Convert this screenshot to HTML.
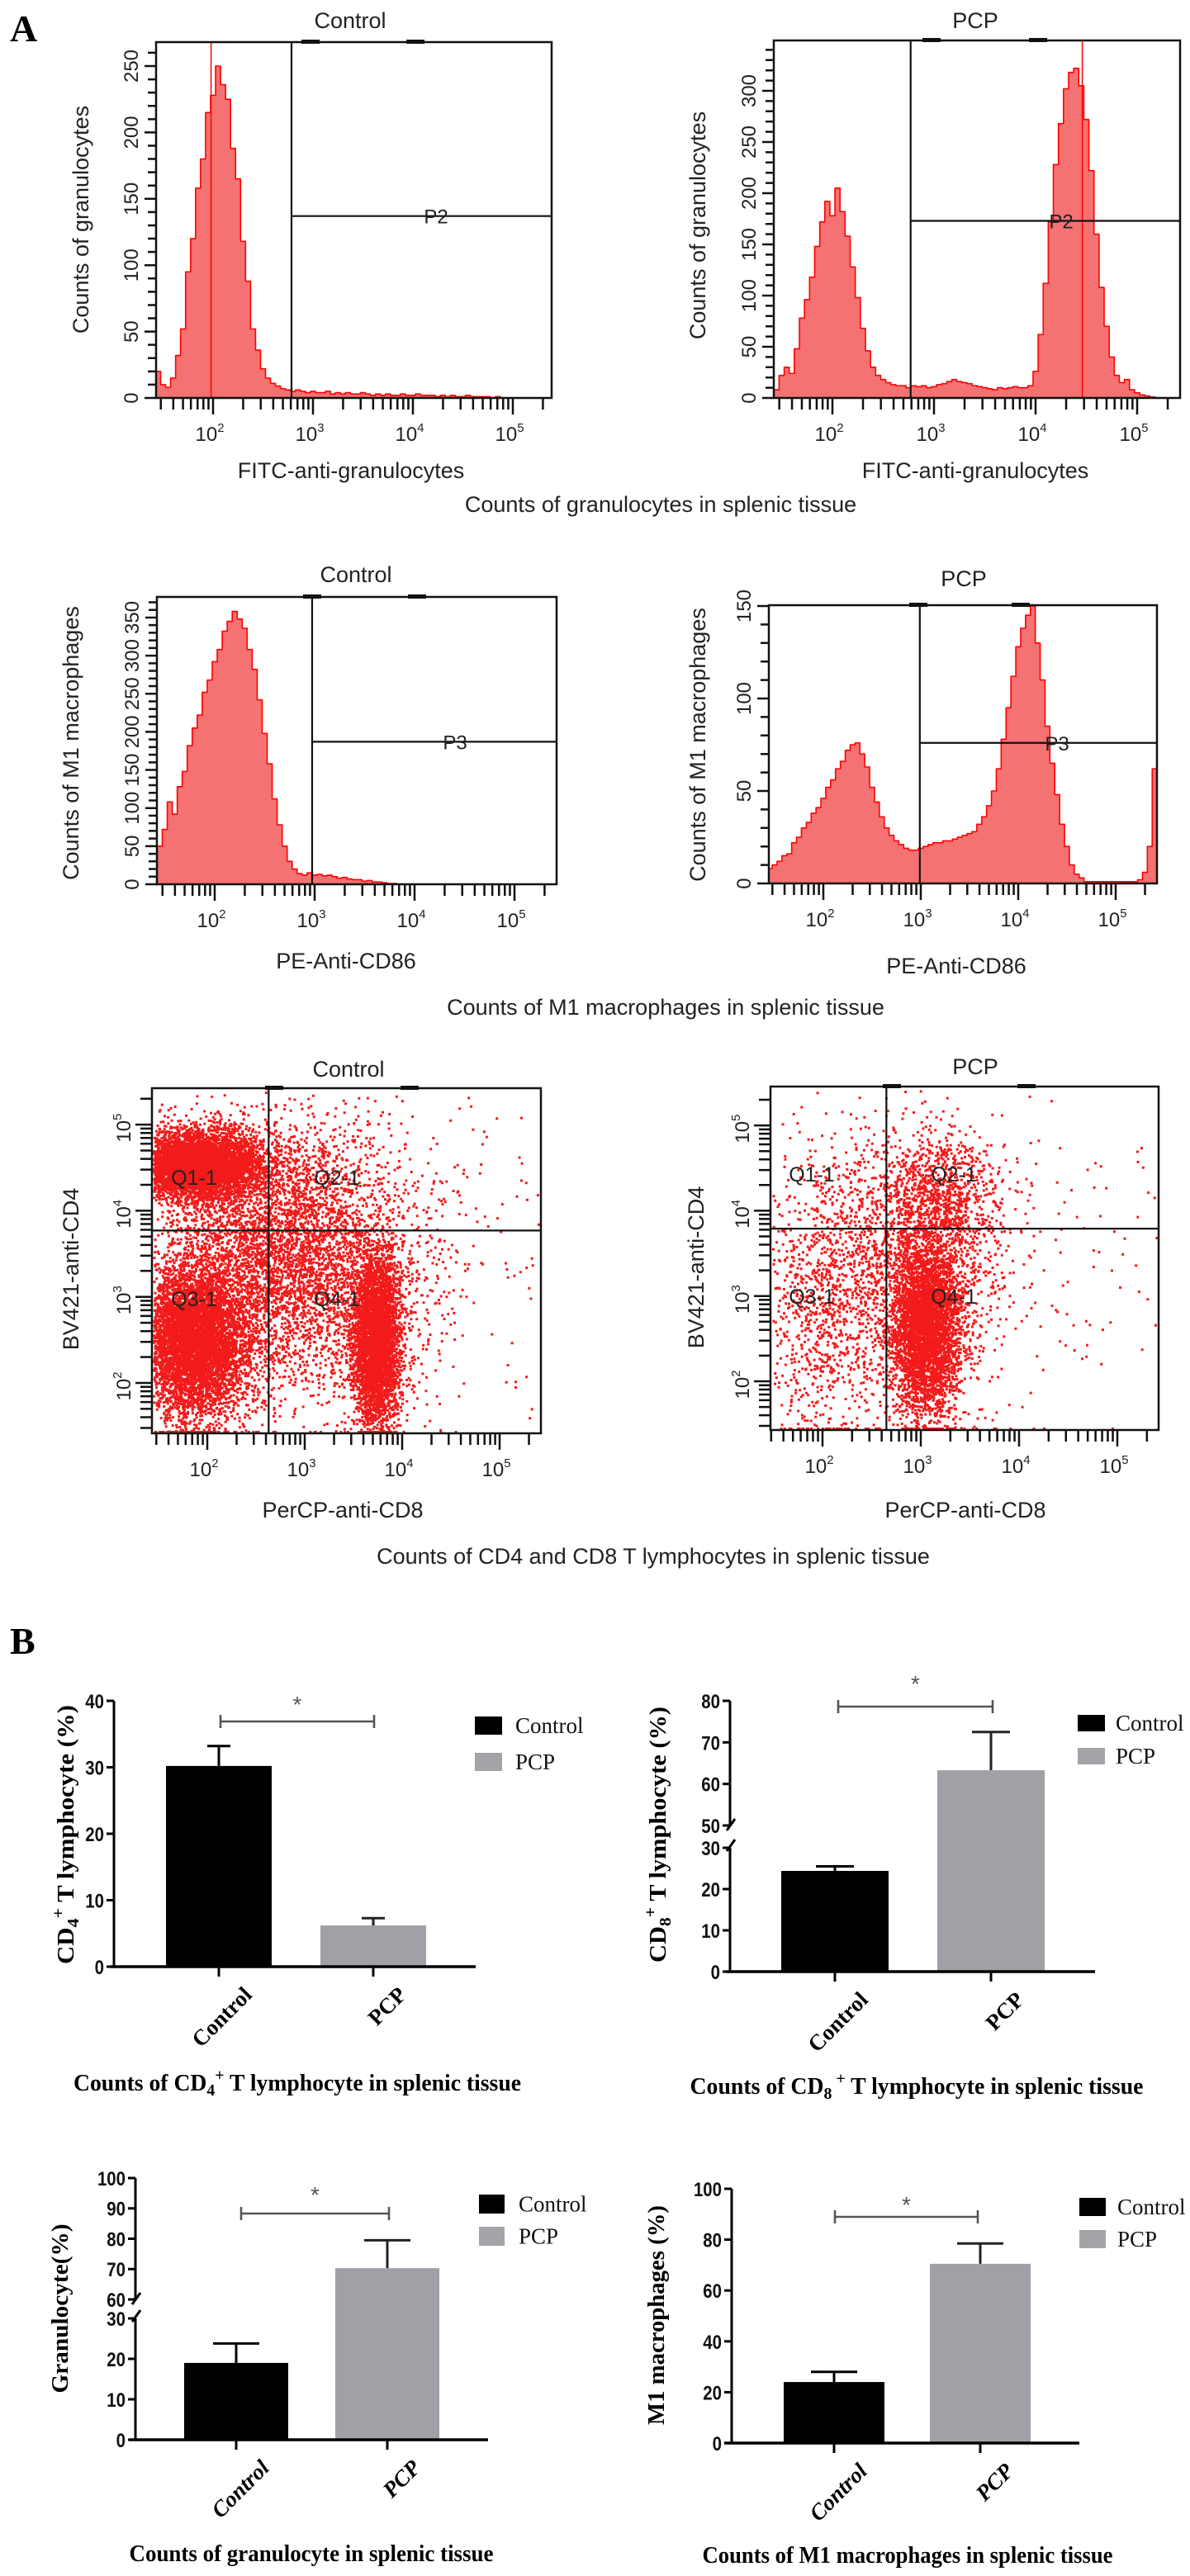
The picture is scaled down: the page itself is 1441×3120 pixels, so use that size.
<!DOCTYPE html>
<html><head><meta charset="utf-8"><style>
html,body{margin:0;padding:0;background:#fff;}
svg{display:block;font-family:"Liberation Sans",Arial,sans-serif;}
</style></head><body>
<svg id="fig" width="1441" height="3120" viewBox="0 0 1441 3120" xmlns="http://www.w3.org/2000/svg">
<rect x="0" y="0" width="1441" height="3120" fill="#fff"/>
<text x="12" y="50" font-family="Liberation Serif,serif" font-weight="bold" font-size="46">A</text>
<text x="12" y="2003" font-family="Liberation Serif,serif" font-weight="bold" font-size="46">B</text>
</svg>
<script>
// ---------- histogram data (log10 bin centres start 1.45, step 0.05) ----------
const binStart = 1.45;
const binStep = 0.05;
const granControlCounts = [20,10,8,15,32,52,95,120,158,180, 215,228,250,236,225,188,165,118,88,52, 36,22,15,11,9,7,6,5,6,5, 4,5,4,4,5,3,4,3,4,3, 3,4,3,2,3,2,3,2,2,3, 2,2,3,2,2,2,1,2,1,2, 1,1,2,1,1,1,1,0,1,0, 0,0,0,0,0,0,0,0,0];
const granPcpCounts = [8,22,30,24,48,78,96,118,148,172, 192,178,205,182,158,128,98,68,46,30, 22,18,15,13,12,12,10,12,11,12, 10,11,13,14,16,18,16,15,14,12, 11,10,9,8,10,9,10,11,10,10, 12,26,62,112,172,228,268,302,318,322, 305,272,222,160,108,70,40,22,15,18, 8,5,3,2,1,0,0,0,0,0];
const m1ControlCounts = [50,72,108,92,128,148,182,205,222,252, 268,292,308,332,345,358,348,336,308,282, 242,198,158,112,78,50,30,20,14,12, 15,12,13,11,12,10,8,9,7,6, 6,4,5,3,3,2,1,1,0,0, 0,0,0,0,0,0,0,0,0,0, 0,0,0,0,0,0,0,0,0,0, 0,0,0,0,0,0,0,0,0,0];
const m1PcpCounts = [8,10,12,15,16,22,25,30,33,38, 41,46,52,56,62,66,72,75,76,70, 63,52,44,36,30,26,23,21,19,18, 18,19,20,21,22,22,23,23,24,25, 26,27,28,32,36,42,50,62,78,95, 112,128,138,145,150,130,110,85,65,48, 32,20,10,5,3,1,1,1,1,1, 1,1,1,1,1,1,2,6,20,62];
const granControlYTicks = [0,50,100,150,200,250];
const granPcpYTicks = [0,50,100,150,200,250,300];
const m1ControlYTicks = [0,50,100,150,200,250,300,350];
const m1PcpYTicks = [0,50,100,150];
const logTickExps = [2,3,4,5];
// ---------- dot-plot clusters: [log CD8 centre, log CD4 centre, sdX, sdY, count] ----------
const cdControlClusters = [[1.9,4.55,0.33,0.2,5200],[1.85,2.5,0.28,0.45,6000],[3.72,2.5,0.12,0.5,4200],[2.8,3.5,0.65,0.75,5000],[4.1,3.5,0.9,1.0,260]];
const cdPcpClusters = [[3.05,2.65,0.17,0.5,3800],[2.9,3.3,0.45,0.8,2000],[1.95,3.0,0.35,0.9,900],[3.2,4.2,0.3,0.35,700],[4.3,3.5,0.8,1.0,130]];
const quadrantLabels = ['Q1-1','Q2-1','Q3-1','Q4-1'];
// ---------- bar chart data ----------
const groups = ['Control','PCP'];
const cd4Values = [30.2,6.2];
const cd4Errors = [3.0,1.1];
const cd8Values = [24.4,63.3];
const cd8Errors = [1.1,9.2];
const granValues = [19.0,70.3];
const granErrors = [4.8,9.2];
const m1Values = [24.0,70.5];
const m1Errors = [4.0,8.0];
const cd4Ticks = [0,10,20,30,40];
const cd8Ticks = [0,10,20,30,50,60,70,80];
const granTicks = [0,10,20,30,60,70,80,90,100];
const m1Ticks = [0,20,40,60,80,100];

const NS='http://www.w3.org/2000/svg';
const svg=document.getElementById('fig');
function mk(tag, attrs, name, parent){
  const e=document.createElementNS(NS,tag);
  for(const k in attrs) e.setAttribute(k,attrs[k]);
  
  
  (parent||svg).appendChild(e);
  return e;
}
function txt(x,y,s,attrs,name,parent){
  const t=mk('text',Object.assign({x:x,y:y},attrs),name,parent);
  t.textContent=s; return t;
}
function supText(x,y,base,exp,size,rot,name,parent){
  const t=mk('text',{x:x,y:y,'font-size':size,'text-anchor':'middle',fill:'#222'},name,parent);
  if(rot) t.setAttribute('transform','rotate(-90 '+x+' '+y+')');
  const a=document.createElementNS(NS,'tspan'); a.textContent=base; t.appendChild(a);
  const b=document.createElementNS(NS,'tspan'); b.setAttribute('dy',-size*0.45); b.setAttribute('font-size',size*0.62); b.textContent=exp; t.appendChild(b);
  return t;
}
function logXTicks(g,X,L,R,B,lo,hi,name){
  let d='';
  for(let dec=1;dec<=5;dec++) for(let m=1;m<=9;m++){
    const l=dec+Math.log10(m); if(l<lo||l>hi) continue;
    const x=X(l); if(x<L-1||x>R+1) continue;
    d+='M'+x+' '+B+' v'+(m===1?20:14)+' ';
  }
  mk('path',{d:d,stroke:'#111','stroke-width':2.5,fill:'none'},name,g);
  logTickExps.forEach(e=>{
    supText(X(e)-4,B+52,'10',String(e),24,false,'x-tick-label-1e'+e,g);
  });
}
function histPanel(c){
  const g=mk('g',{},c.name);
  const X=l=>Math.min(c.R,Math.max(c.L,c.x2+(l-2)*c.dec));
  const Y=v=>Math.max(c.T,c.B-v*c.k);
  let d='M'+X(c.start-c.step/2)+' '+c.B;
  c.counts.forEach((v,i)=>{const l=c.start+i*c.step; d+=' L'+X(l-c.step/2)+' '+Y(v)+' L'+X(l+c.step/2)+' '+Y(v);});
  d+=' L'+X(c.start+(c.counts.length-0.5)*c.step)+' '+c.B+' Z';
  mk('path',{d:d,fill:'#f47272',stroke:'#f00','stroke-width':1.6,'stroke-linejoin':'round'},'histogram-fill',g);
  if(c.spike!==undefined) mk('line',{x1:X(c.spike),y1:c.T,x2:X(c.spike),y2:c.B,stroke:'#f00','stroke-width':1.5},'histogram-spike',g);
  mk('rect',{x:c.L,y:c.T,width:c.R-c.L,height:c.B-c.T,fill:'none',stroke:'#111','stroke-width':2.5},'plot-frame',g);
  mk('rect',{x:X(3)-14,y:c.T-3,width:22,height:5,fill:'#111'},'frame-marker',g);
  mk('rect',{x:X(4)-8,y:c.T-3,width:22,height:5,fill:'#111'},'frame-marker',g);
  let td='';
  for(let v=0;v*c.k<=c.B-c.T+0.5;v+=10){ td+='M'+(c.L-(v%50===0?14:10))+' '+(c.B-v*c.k)+' H'+c.L+' '; }
  mk('path',{d:td,stroke:'#111','stroke-width':2.5},'y-ticks',g);
  c.yTicks.forEach(v=>{
    const y=c.B-v*c.k, x=c.L-22;
    txt(x,y,String(v),{'font-size':24,'text-anchor':'middle',fill:'#222',transform:'rotate(-90 '+x+' '+y+')'},'y-tick-label',g);
  });
  logXTicks(g,l=>c.x2+(l-2)*c.dec,c.L,c.R,c.B,1,5.5,'x-ticks');
  const gx=c.x2+(c.gateLog-2)*c.dec, gy=c.B-c.gateVal*c.k;
  mk('line',{x1:gx,y1:c.T,x2:gx,y2:c.B,stroke:'#111','stroke-width':2.2},'gate-line-vertical',g);
  mk('line',{x1:gx,y1:gy,x2:c.R,y2:gy,stroke:'#111','stroke-width':2.2},'gate-line-horizontal',g);
  txt(c.labelX,gy+9,c.gateName,{'font-size':24,'text-anchor':'middle',fill:'#222'},'gate-label',g);
  txt(c.titleX,c.titleY+9,c.title,{'font-size':27,'text-anchor':'middle',fill:'#222'},'plot-title',g);
  txt(c.xTitleX,c.xTitleY+10,c.xTitle,{'font-size':27,'text-anchor':'middle',fill:'#222'},'x-axis-title',g);
  txt(c.yTitleX+10,c.yTitleY,c.yTitle,{'font-size':27,'text-anchor':'middle',fill:'#222',transform:'rotate(-90 '+(c.yTitleX+10)+' '+c.yTitleY+')'},'y-axis-title',g);
}
histPanel({name:'histogram-granulocytes-control',L:189,R:668,T:51,B:482,x2:258,dec:121,k:1.608,counts:granControlCounts,start:binStart,step:binStep,yTicks:granControlYTicks,gateLog:2.785,gateVal:137,gateName:'P2',labelX:528,spike:1.98,title:'Control',titleX:424,titleY:25,xTitle:'FITC-anti-granulocytes',xTitleX:425,xTitleY:569,yTitle:'Counts of granulocytes',yTitleX:97,yTitleY:266});
histPanel({name:'histogram-granulocytes-pcp',L:937,R:1429,T:49,B:482,x2:1008,dec:123,k:1.24,counts:granPcpCounts,start:binStart,step:binStep,yTicks:granPcpYTicks,gateLog:2.77,gateVal:173,gateName:'P2',labelX:1285,spike:4.46,title:'PCP',titleX:1181,titleY:25,xTitle:'FITC-anti-granulocytes',xTitleX:1181,xTitleY:569,yTitle:'Counts of granulocytes',yTitleX:844,yTitleY:273});
histPanel({name:'histogram-m1-control',L:190,R:674,T:723,B:1071,x2:260,dec:121,k:0.923,counts:m1ControlCounts,start:binStart,step:binStep,yTicks:m1ControlYTicks,gateLog:2.975,gateVal:187,gateName:'P3',labelX:551,title:'Control',titleX:431,titleY:696,xTitle:'PE-Anti-CD86',xTitleX:419,xTitleY:1163,yTitle:'Counts of M1  macrophages',yTitleX:85,yTitleY:900});
histPanel({name:'histogram-m1-pcp',L:931,R:1401,T:733,B:1070,x2:997,dec:118,k:2.24,counts:m1PcpCounts,start:binStart,step:binStep,yTicks:m1PcpYTicks,gateLog:2.99,gateVal:76,gateName:'P3',labelX:1280,title:'PCP',titleX:1167,titleY:701,xTitle:'PE-Anti-CD86',xTitleX:1158,xTitleY:1169,yTitle:'Counts of M1 macrophages',yTitleX:844,yTitleY:902});

function rng(seed){return function(){seed|=0;seed=seed+0x6D2B79F5|0;let t=Math.imul(seed^seed>>>15,1|seed);t=t+Math.imul(t^t>>>7,61|t)^t;return((t^t>>>14)>>>0)/4294967296;};}
function dotPanel(c){
  const g=mk('g',{},c.name);
  const X=l=>c.x2+(l-2)*c.decX;
  const Y=l=>c.y2-(l-2)*c.decY;
  const r=rng(c.seed);
  let d='';
  c.clusters.forEach(cl=>{
    for(let i=0;i<cl[4];i++){
      const u=Math.max(1e-9,r()), v=r(), u2=Math.max(1e-9,r()), v2=r();
      const gx=Math.sqrt(-2*Math.log(u))*Math.cos(2*Math.PI*v);
      const gy=Math.sqrt(-2*Math.log(u2))*Math.cos(2*Math.PI*v2);
      let x=X(cl[0]+gx*cl[2]), y=Y(cl[1]+gy*cl[3]);
      if(x<c.L+1||x>c.R-3) continue;
      if(y<c.T+1) continue;
      if(y>c.B-3) y=c.B-3;
      d+='M'+x.toFixed(1)+' '+y.toFixed(1)+'h3v3h-3z';
    }
  });
  mk('path',{d:d,fill:'#f21a1a'},'event-dots',g);
  mk('rect',{x:c.L,y:c.T,width:c.R-c.L,height:c.B-c.T,fill:'none',stroke:'#111','stroke-width':2.5},'plot-frame',g);
  mk('rect',{x:c.gx-4,y:c.T-3,width:22,height:5,fill:'#111'},'frame-marker',g);
  mk('rect',{x:X(4)-2,y:c.T-3,width:22,height:5,fill:'#111'},'frame-marker',g);
  logXTicks(g,X,c.L,c.R,c.B,1,5.5,'x-ticks');
  let yd='';
  for(let dec=1;dec<=5;dec++) for(let m=1;m<=9;m++){
    const y=Y(dec+Math.log10(m)); if(y<c.T||y>c.B) continue;
    yd+='M'+(c.L-(m===1?20:14))+' '+y+' H'+c.L+' ';
  }
  mk('path',{d:yd,stroke:'#111','stroke-width':2.5},'y-ticks',g);
  logTickExps.forEach(e=>{supText(c.L-26,Y(e)+4,'10',String(e),24,true,'y-tick-label-1e'+e,g);});
  const gx=X(c.gateX), gy=Y(c.gateY);
  mk('line',{x1:gx,y1:c.T,x2:gx,y2:c.B,stroke:'#111','stroke-width':2.2},'gate-line-vertical',g);
  mk('line',{x1:c.L,y1:gy,x2:c.R,y2:gy,stroke:'#111','stroke-width':2.2},'gate-line-horizontal',g);
  const qp=[[c.qx1,c.qy1],[c.qx2,c.qy1],[c.qx1,c.qy2],[c.qx2,c.qy2]];
  quadrantLabels.forEach((s,i)=>{txt(qp[i][0],qp[i][1]+9,s,{'font-size':25,'text-anchor':'middle',fill:'#222'},'quadrant-label',g);});
  txt(c.titleX,c.titleY+9,c.title,{'font-size':27,'text-anchor':'middle',fill:'#222'},'plot-title',g);
  txt(c.xTitleX,c.xTitleY+10,'PerCP-anti-CD8',{'font-size':27,'text-anchor':'middle',fill:'#222'},'x-axis-title',g);
  txt(c.yTitleX+10,c.yTitleY,'BV421-anti-CD4',{'font-size':27,'text-anchor':'middle',fill:'#222',transform:'rotate(-90 '+(c.yTitleX+10)+' '+c.yTitleY+')'},'y-axis-title',g);
}
dotPanel({name:'dotplot-cd4-cd8-control',seed:7,clusters:cdControlClusters,L:184,R:655,T:1318,B:1736,x2:251,decX:118,y2:1675,decY:104.3,gateX:2.63,gateY:3.77,gx:325,qx1:235,qx2:408,qy1:1426,qy2:1573,title:'Control',titleX:422,titleY:1295,xTitleX:415,xTitleY:1828,yTitleX:85,yTitleY:1537});
dotPanel({name:'dotplot-cd4-cd8-pcp',seed:11,clusters:cdPcpClusters,L:933,R:1403,T:1316,B:1732,x2:996,decX:119,y2:1673,decY:103.3,gateX:2.65,gateY:3.79,gx:1073,qx1:983,qx2:1155,qy1:1422,qy2:1570,title:'PCP',titleX:1181,titleY:1292,xTitleX:1169,xTitleY:1828,yTitleX:842,yTitleY:1535});

txt(800,620,'Counts of granulocytes in splenic tissue',{'font-size':27,'text-anchor':'middle',fill:'#222'},'caption-granulocytes');
txt(806,1229,'Counts of M1 macrophages in splenic tissue',{'font-size':27,'text-anchor':'middle',fill:'#222'},'caption-m1-macrophages');
txt(791,1894,'Counts of CD4 and CD8 T lymphocytes in splenic tissue',{'font-size':27,'text-anchor':'middle',fill:'#222'},'caption-cd4-cd8');

function barChart(c){
  const g=mk('g',{},c.name);
  const Y=v=>{for(const s of c.segs){ if(v>=s[0]&&v<=s[1]) return s[2]+(v-s[0])*(s[3]-s[2])/(s[1]-s[0]); }
    const s=c.segs[c.segs.length-1]; return s[2]+(v-s[0])*(s[3]-s[2])/(s[1]-s[0]);};
  const B=Y(0);
  c.values.forEach((v,i)=>{
    const cx=c.cx[i];
    mk('rect',{x:cx-c.bw/2,y:Y(v),width:c.bw,height:B-Y(v),fill:i===0?'#000':'#a0a0a7'},'bar-'+groups[i].toLowerCase(),g);
    const top=Y(v+c.errors[i]);
    mk('path',{d:'M'+cx+' '+Y(v)+' V'+top+' M'+(cx-c.cap)+' '+top+' H'+(cx+c.cap),stroke:i===0?'#000':'#222','stroke-width':3,fill:'none'},'error-bar-'+groups[i].toLowerCase(),g);
    mk('line',{x1:cx,y1:B,x2:cx,y2:B+12,stroke:'#000','stroke-width':3},'x-tick',g);
    const lx=cx+28, ly=B+22;
    txt(lx,ly,groups[i],{'font-size':c.lblSize,'font-family':'Liberation Serif,serif','font-weight':'bold','font-style':c.italic?'italic':'normal','text-anchor':'end','dominant-baseline':'hanging',transform:'rotate(-45 '+lx+' '+ly+')'},'x-tick-label',g);
  });
  let ad='';
  c.segs.forEach(s=>{ad+='M'+c.ax+' '+s[2]+' V'+s[3]+' ';});
  mk('path',{d:ad,stroke:'#000','stroke-width':3,fill:'none'},'y-axis-line',g);
  mk('line',{x1:c.ax0,y1:B,x2:c.ax1,y2:B,stroke:'#000','stroke-width':3.5},'x-axis-line',g);
  if(c.segs.length>1){
    const y1=c.segs[0][3], y2=c.segs[1][2];
    mk('path',{d:'M'+(c.ax-4)+' '+(y1+4)+' L'+(c.ax+6)+' '+(y1-10)+' M'+(c.ax-4)+' '+(y2+6)+' L'+(c.ax+6)+' '+(y2-8),stroke:'#000','stroke-width':3},'axis-break',g);
  }
  c.ticks.forEach(v=>{
    const y=Y(v);
    mk('line',{x1:c.ax-9,y1:y,x2:c.ax,y2:y,stroke:'#000','stroke-width':3},'y-tick',g);
    txt(c.ax-12,y+9,String(v),{'font-size':24,'font-weight':'bold','text-anchor':'end',fill:'#111',transform:'scale(0.85,1)',style:'transform-box:fill-box;transform-origin:right center'},'y-tick-label',g);
  });
  const sy=c.sigY;
  mk('path',{d:'M'+c.sig[0]+' '+sy+' H'+c.sig[1]+' M'+c.sig[0]+' '+(sy-8)+' V'+(sy+8)+' M'+c.sig[1]+' '+(sy-8)+' V'+(sy+8),stroke:'#555','stroke-width':2.6,fill:'none'},'significance-bracket',g);
  txt((c.sig[0]+c.sig[1])/2,c.starY+14,'*',{'font-size':28,'text-anchor':'middle',fill:'#555','font-family':'Liberation Sans,sans-serif'},'significance-star',g);
  groups.forEach((s,i)=>{
    const lg=mk('g',{},'legend-entry-'+s.toLowerCase(),g);
    mk('rect',{x:c.leg[0],y:c.legY[i],width:c.leg[1],height:c.legH,fill:i===0?'#000':'#a3a3a8'},'legend-swatch',lg);
    txt(c.leg[2],c.legY[i]+c.legH/2+9,s,{'font-size':27,'font-family':'Liberation Serif,serif',fill:'#111'},'legend-label',lg);
  });
  const t=mk('text',{x:c.ytx,y:c.yty,'font-size':28,'font-family':'Liberation Serif,serif','font-weight':'bold','text-anchor':'middle',textLength:c.ytl,lengthAdjust:'spacingAndGlyphs',transform:'rotate(-90 '+c.ytx+' '+c.yty+')'},'y-axis-title',g);
  c.yTitle(t);
  const cap=mk('text',{x:c.capX,y:c.capY+9,'font-size':28,'font-family':'Liberation Serif,serif','font-weight':'bold','text-anchor':'middle',textLength:c.capL,lengthAdjust:'spacingAndGlyphs'},'chart-caption',g);
  c.caption(cap);
}
function ts(parent,s,attrs){const e=document.createElementNS(NS,'tspan');for(const k in (attrs||{}))e.setAttribute(k,attrs[k]);e.textContent=s;parent.appendChild(e);return e;}
barChart({name:'bar-chart-cd4',values:cd4Values,errors:cd4Errors,ticks:cd4Ticks,segs:[[0,40,2382,2060]],ax:138,ax0:134,ax1:576,cx:[265,452],bw:128,cap:14,sig:[267,453],sigY:2085,starY:2060,leg:[575,33,624],legY:[2079,2123],legH:22,lblSize:27,ytx:89,yty:2222,ytl:314,capX:360,capY:2523,capL:542,
  yTitle:t=>{ts(t,'CD');ts(t,'4',{dy:6,'font-size':20});ts(t,'+',{dy:-18,'font-size':20});ts(t,' T lymphocyte (%)',{dy:12});},
  caption:t=>{ts(t,'Counts of CD');ts(t,'4',{dy:6,'font-size':20});ts(t,'+',{dy:-18,'font-size':20});ts(t,' T lymphocyte in splenic tissue',{dy:12});}});
barChart({name:'bar-chart-cd8',values:cd8Values,errors:cd8Errors,ticks:cd8Ticks,segs:[[0,30,2388,2238],[50,80,2211,2060]],ax:884,ax0:879,ax1:1326,cx:[1011,1200],bw:130,cap:23,sig:[1015,1202],sigY:2067,starY:2035,leg:[1305,33,1351],legY:[2077,2117],legH:20,lblSize:27,ytx:806,yty:2222,ytl:310,capX:1110,capY:2527,capL:549,
  yTitle:t=>{ts(t,'CD');ts(t,'8',{dy:6,'font-size':20});ts(t,'+',{dy:-18,'font-size':20});ts(t,' T lymphocyte (%)',{dy:12});},
  caption:t=>{ts(t,'Counts of CD');ts(t,'8',{dy:6,'font-size':20});ts(t,' +',{dy:-18,'font-size':20});ts(t,' T lymphocyte in splenic tissue',{dy:12});}});
barChart({name:'bar-chart-granulocyte',values:granValues,errors:granErrors,ticks:granTicks,segs:[[0,30,2955,2808],[60,100,2785,2638]],ax:164,ax0:157,ax1:591,cx:[286,469],bw:126,cap:28,sig:[292,471],sigY:2681,starY:2654,leg:[580,31,628],legY:[2658,2697],legH:23,lblSize:27,italic:true,ytx:82,yty:2796,ytl:205,capX:377,capY:3093,capL:441,
  yTitle:t=>{ts(t,'Granulocyte(%)');},
  caption:t=>{ts(t,'Counts of granulocyte in splenic tissue');}});
barChart({name:'bar-chart-m1-macrophages',values:m1Values,errors:m1Errors,ticks:m1Ticks,segs:[[0,100,2959,2651]],ax:886,ax0:877,ax1:1307,cx:[1010,1187],bw:122,cap:28,sig:[1011,1184],sigY:2685,starY:2666,leg:[1307,32,1353],legY:[2662,2701],legH:22,lblSize:27,italic:true,ytx:804,yty:2804,ytl:266,capX:1099,capY:3095,capL:497,
  yTitle:t=>{ts(t,'M1 macrophages (%)');},
  caption:t=>{ts(t,'Counts of M1 macrophages in splenic tissue');}});
</script>
</body></html>
